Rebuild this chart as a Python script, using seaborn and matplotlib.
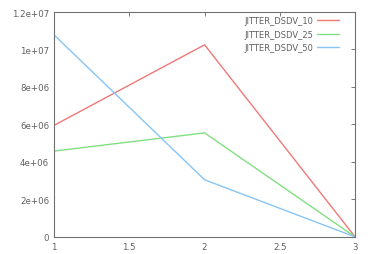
import matplotlib
matplotlib.use("Agg")
import matplotlib.pyplot as plt
import seaborn as sns
import pandas as pd

x_vals = [1, 2, 3]
jitter_10 = [5.95e6, 10.25e6, 0]
jitter_25 = [4.58e6, 5.55e6, 0]
jitter_50 = [10.78e6, 3.05e6, 0]
series_names = ["JITTER_DSDV_10", "JITTER_DSDV_25", "JITTER_DSDV_50"]
colors = ["#f07878", "#80e080", "#88c4f4"]

rows = []
for name, vals in zip(series_names, [jitter_10, jitter_25, jitter_50]):
    for xv, yv in zip(x_vals, vals):
        rows.append({"x": xv, "y": yv, "series": name})
df = pd.DataFrame(rows)

sns.set_style("white")
plt.rcParams['font.family'] = ['DejaVu Sans']
fig = plt.figure(figsize=(3.75, 2.55), dpi=100)
ax = fig.add_axes([0.144, 0.067, 0.803, 0.882])
sns.lineplot(data=df, x="x", y="y", hue="series", palette=colors, ax=ax, linewidth=1.0)
ax.set_xlim(1, 3)
ax.set_ylim(0, 1.2e7)
ax.set_xticks([1, 1.5, 2, 2.5, 3])
ax.set_xticklabels(["1", "1.5", "2", "2.5", "3"])
ax.set_yticks([0, 2e6, 4e6, 6e6, 8e6, 1e7, 1.2e7])
ax.set_yticklabels(["0", "2e+06", "4e+06", "6e+06", "8e+06", "1e+07", "1.2e+07"])
ax.set_xlabel("")
ax.set_ylabel("")
ax.tick_params(direction="in", length=3, labelsize=6.2, colors="#606060", top=True, right=True, width=0.6)
ax.tick_params(axis="x", pad=4)
for s in ax.spines.values():
    s.set_color("#707070")
    s.set_linewidth(0.8)
leg = ax.legend(loc="upper right", frameon=False, fontsize=6.0, markerfirst=False,
                handlelength=2.6, handletextpad=0.5, labelspacing=0.55, borderaxespad=0.1,
                bbox_to_anchor=(0.96, 1.0))
for t in leg.get_texts():
    t.set_color("#606060")
fig.savefig("out.png", dpi=100)
